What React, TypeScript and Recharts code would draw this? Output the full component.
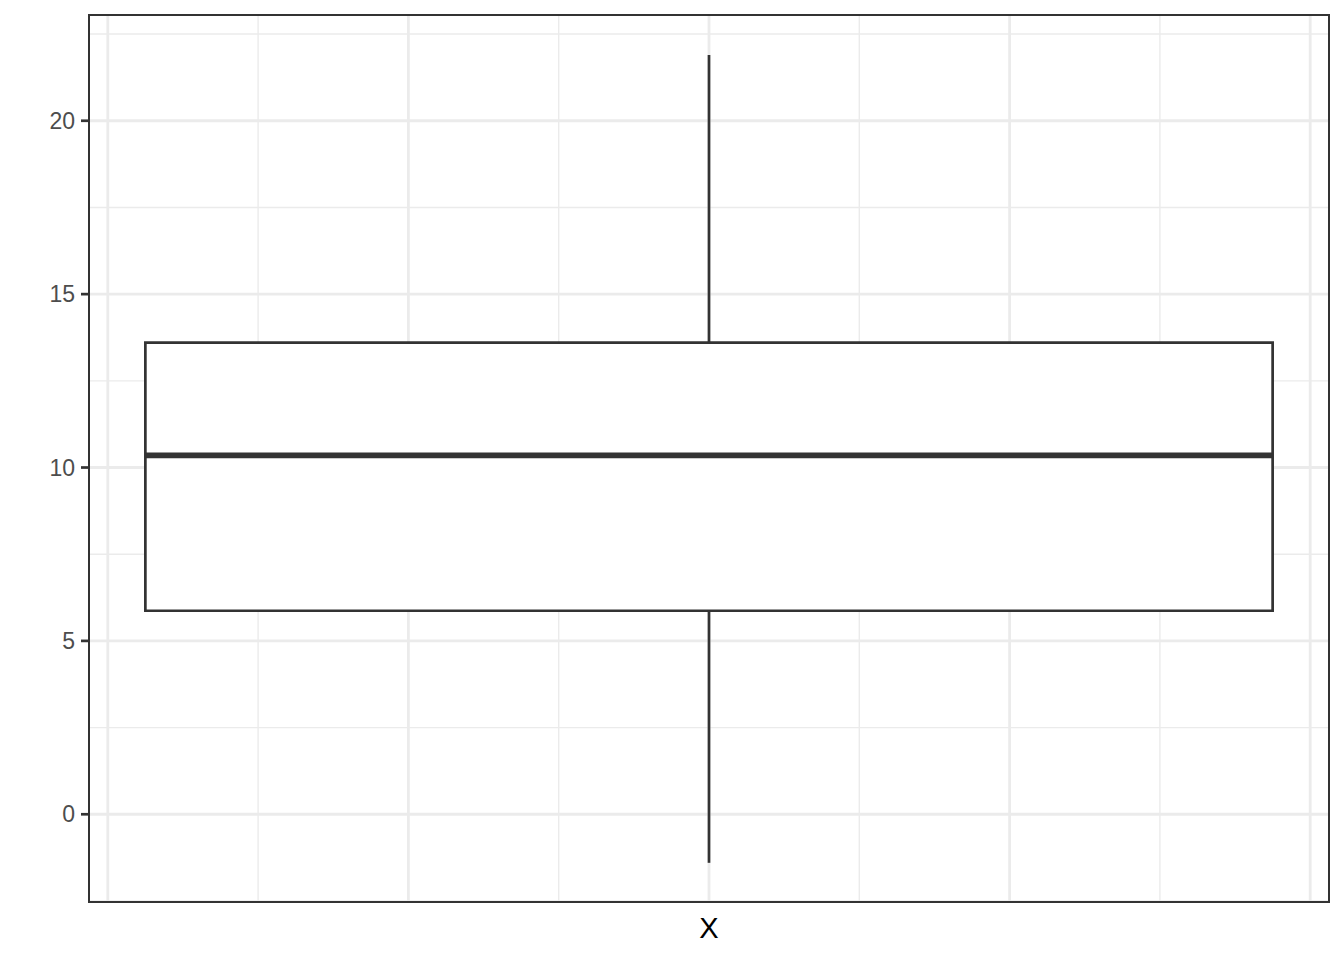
import React from 'react';
import {
  ComposedChart,
  XAxis,
  YAxis,
  CartesianGrid,
  ReferenceArea,
  ReferenceLine,
} from 'recharts';

// box statistics
const boxCategory = 'X';
const boxX = [0];
const lowerWhisker = [-1.4];
const lowerQuartile = [5.87];
const medianValue = [10.35];
const upperQuartile = [13.6];
const upperWhisker = [21.9];

const yTicks = [0, 5, 10, 15, 20];
const yMinor = [-2.5, 2.5, 7.5, 12.5, 17.5, 22.5];
const xMajor = [-0.4, -0.2, 0, 0.2, 0.4];
const xMinor = [-0.3, -0.1, 0.1, 0.3];

const BOX_HALF = 0.375;
const X_DOMAIN: [number, number] = [-0.4125, 0.4125];
const Y_DOMAIN: [number, number] = [-2.53, 23.05];

const INK = '#333333';
const GRID = '#EBEBEB';

// place vertical grid lines through the x axis scale
const xLines = (values: number[]) => (props: any) => {
  const scale = props?.xAxis?.scale;
  if (typeof scale === 'function') return values.map((v) => scale(v));
  const { left, width } = props.offset;
  return values.map((v) => left + ((v - X_DOMAIN[0]) / (X_DOMAIN[1] - X_DOMAIN[0])) * width);
};

export default function App() {
  const boxes = boxX.map((x, i) => ({
    x,
    lo: lowerWhisker[i],
    q1: lowerQuartile[i],
    med: medianValue[i],
    q3: upperQuartile[i],
    hi: upperWhisker[i],
  }));

  return (
    <div style={{ position: 'absolute', left: 0, top: 0, background: '#fff' }}>
      <ComposedChart
        width={1344}
        height={960}
        data={boxes}
        margin={{ top: 15, right: 15, bottom: 0, left: 0 }}
        style={{ fontFamily: '"Liberation Sans", Arial, sans-serif' }}
      >
        {/* minor then major grid, both under the box */}
        <CartesianGrid
          horizontalValues={yMinor}
          verticalCoordinatesGenerator={xLines(xMinor)}
          stroke={GRID}
          strokeWidth={1.4}
        />
        <CartesianGrid
          horizontalValues={yTicks}
          verticalCoordinatesGenerator={xLines(xMajor)}
          stroke={GRID}
          strokeWidth={2.8}
        />
        <XAxis
          type="number"
          dataKey="x"
          domain={X_DOMAIN}
          ticks={xMajor}
          tick={false}
          tickLine={false}
          axisLine={false}
          height={58}
          allowDataOverflow
          label={{
            value: boxCategory,
            position: 'insideBottom',
            offset: 22,
            fill: '#000000',
            fontSize: 29,
          }}
        />
        <YAxis
          type="number"
          domain={Y_DOMAIN}
          ticks={yTicks}
          width={89}
          axisLine={false}
          tickSize={8}
          tickMargin={6}
          tickLine={{ stroke: INK, strokeWidth: 2.7 }}
          tick={{ fill: '#4D4D4D', fontSize: 23 }}
          allowDataOverflow
        />

        {boxes.map((b) => (
          <React.Fragment key={b.x}>
            <ReferenceLine
              segment={[{ x: b.x, y: b.q3 }, { x: b.x, y: b.hi }]}
              stroke={INK}
              strokeWidth={2.7}
            />
            <ReferenceLine
              segment={[{ x: b.x, y: b.lo }, { x: b.x, y: b.q1 }]}
              stroke={INK}
              strokeWidth={2.7}
            />
            <ReferenceArea
              x1={b.x - BOX_HALF}
              x2={b.x + BOX_HALF}
              y1={b.q1}
              y2={b.q3}
              fill="#ffffff"
              fillOpacity={1}
              stroke={INK}
              strokeWidth={2.7}
            />
            <ReferenceLine
              segment={[{ x: b.x - BOX_HALF, y: b.med }, { x: b.x + BOX_HALF, y: b.med }]}
              stroke={INK}
              strokeWidth={5.6}
            />
          </React.Fragment>
        ))}

        {/* panel border */}
        <ReferenceArea
          x1={X_DOMAIN[0]}
          x2={X_DOMAIN[1]}
          y1={Y_DOMAIN[0]}
          y2={Y_DOMAIN[1]}
          fill="none"
          stroke={INK}
          strokeWidth={2}
          ifOverflow="visible"
        />
      </ComposedChart>
    </div>
  );
}
